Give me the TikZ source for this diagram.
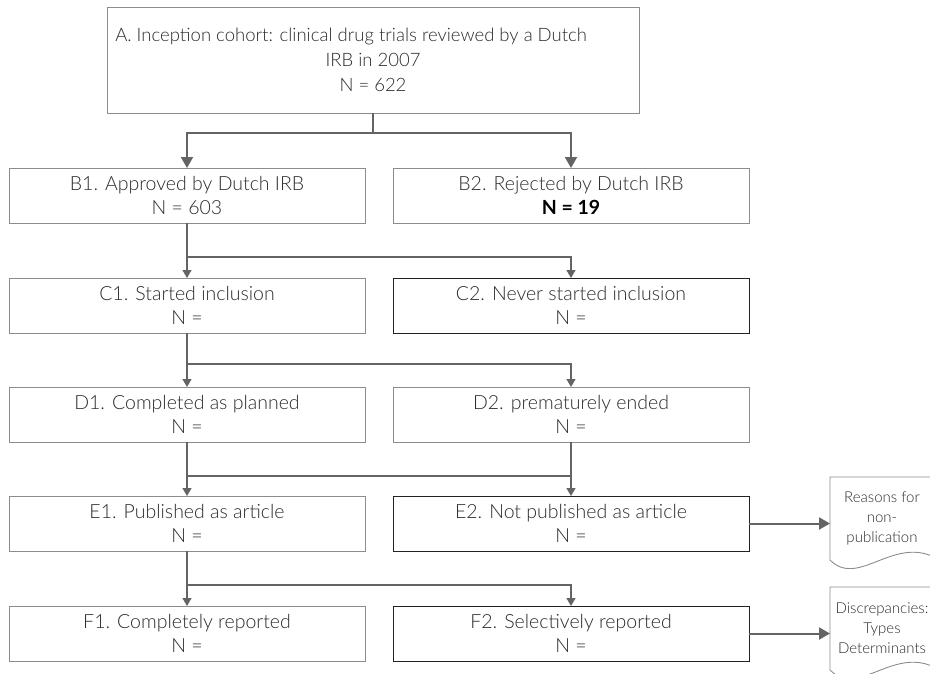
\documentclass[tikz,border=0pt]{standalone}
\usepackage{fontspec}
\setmainfont{Lato}[UprightFont={* Light},BoldFont={* Bold}]
\usetikzlibrary{arrows.meta}
\definecolor{boxgray}{HTML}{8C8C8C}
\definecolor{boxdark}{HTML}{222222}
\definecolor{linegray}{HTML}{646464}
\definecolor{txt}{HTML}{2A2A2A}
\tikzset{
  stage/.style={draw=boxgray,line width=0.9pt,rectangle,inner sep=0pt,outer sep=0pt,
    anchor=north west,minimum width=356pt,minimum height=55pt,align=center,
    text=txt,font=\fontsize{19.5}{24}\selectfont},
  stagedark/.style={stage,draw=boxdark},
  cohort/.style={stage,minimum width=532pt,minimum height=106pt,
    font=\fontsize{18.5}{25}\selectfont},
  docnode/.style={rectangle,inner sep=0pt,outer sep=0pt,anchor=north west,
    minimum width=104pt,minimum height=83pt,align=center,text=txt,
    font=\fontsize{15}{20}\selectfont},
  docshape/.style={draw=boxgray,line width=0.9pt},
  flow/.style={draw=linegray,line width=1.2pt,-{Triangle[length=8pt,width=9pt]}},
  flowline/.style={draw=linegray,line width=1.2pt},
  mainflow/.style={draw=linegray,line width=2pt,-{Triangle[length=11pt,width=12pt]}},
  mainline/.style={draw=linegray,line width=2pt},
}
\begin{document}
\begin{tikzpicture}[x=1pt,y=-1pt]
\useasboundingbox (0,0) rectangle (930,673);
\clip (0,0) rectangle (930,673);

% cohort box
\node[cohort] (A) at (107,7)
  {A. Inception cohort: clinical drug trials reviewed by a Dutch\hspace*{44pt}\\IRB in 2007\\N = 622};

% stages, left and right columns
\node[stage] (B1) at (9,168) {B1. Approved by Dutch IRB\\N = 603};
\node[stage] (B2) at (393,168) {B2. Rejected by Dutch IRB\\\textbf{\color{black}N = 19}};
\node[stage] (C1) at (9,278) {C1. Started inclusion\\N =};
\node[stagedark] (C2) at (393,278) {C2. Never started inclusion\\N =};
\node[stage] (D1) at (9,387) {D1. Completed as planned\\N =};
\node[stage] (D2) at (393,387) {D2. prematurely ended\\N =};
\node[stage] (E1) at (9,496) {E1. Published as article\\N =};
\node[stagedark] (E2) at (393,496) {E2. Not published as article\\N =};
\node[stage] (F1) at (9,606) {F1. Completely reported\\N =};
\node[stagedark] (F2) at (393,606) {F2. Selectively reported\\N =};

% document notes with a wavy lower edge
\node[docnode] (R) at (830,477) {Reasons for\\non-\\publication};
\node[docnode] (S) at (830,587) {Discrepancies:\\Types\\Determinants};
\draw[docshape] (R.south west) -- (R.north west) -- (R.north east) -- ([yshift=3pt]R.south east)
  .. controls +(-42,-20) and +(28,28) .. (R.south west);
\draw[docshape] (S.south west) -- (S.north west) -- (S.north east) -- ([yshift=3pt]S.south east)
  .. controls +(-42,-20) and +(28,28) .. (S.south west);

% A splits into B1 / B2
\draw[mainline] (A.south) -- ++(0,20) coordinate (ab);
\draw[mainflow] (ab) -| (B1.north);
\draw[mainflow] (ab) -| (B2.north);

% B1 splits into C1 / C2
\draw[flowline] (B1.south) -- ++(0,34) coordinate (bc);
\draw[flow] (bc) -- (C1.north);
\draw[flow] (bc) -| (C2.north);

% C1 splits into D1 / D2
\draw[flowline] (C1.south) -- ++(0,31) coordinate (cd);
\draw[flow] (cd) -- (D1.north);
\draw[flow] (cd) -| (D2.north);

% D1 and D2 both feed E1 / E2
\draw[flowline] (D1.south) -- ++(0,34) coordinate (de1);
\draw[flowline] (D2.south) -- ++(0,34) coordinate (de2);
\draw[flowline] (de1) -- (de2);
\draw[flow] (de1) -- (E1.north);
\draw[flow] (de2) -- (E2.north);

% E1 splits into F1 / F2
\draw[flowline] (E1.south) -- ++(0,34) coordinate (ef);
\draw[flow] (ef) -- (F1.north);
\draw[flow] (ef) -| (F2.north);

% side branches to the notes
\draw[mainflow] (E2.east) -- (E2.east -| R.west);
\draw[mainflow] (F2.east) -- (F2.east -| S.west);
\end{tikzpicture}
\end{document}
